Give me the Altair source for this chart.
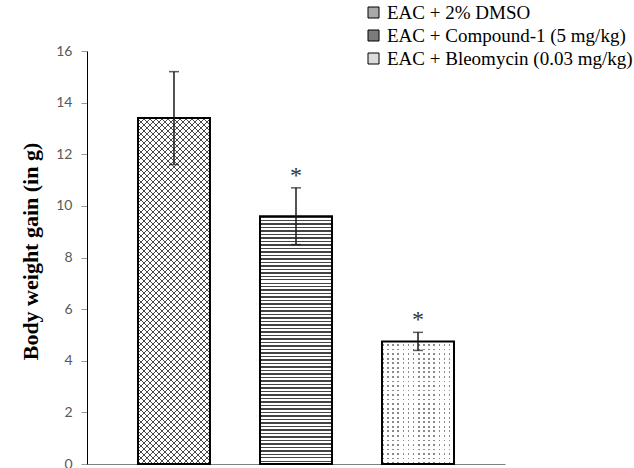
import math
import altair as alt
import pandas as pd

# ---- data ----
groups = ["EAC + 2% DMSO", "EAC + Compound-1 (5 mg/kg)", "EAC + Bleomycin (0.03 mg/kg)"]
means = [13.4, 9.6, 4.75]
errors = [1.8, 1.1, 0.35]
signif = ["", "*", "*"]
y_ticks = [0, 2, 4, 6, 8, 10, 12, 14, 16]
legend_fills = ["#a8a8a8", "#7c7c7c", "#dcdcdc"]

# ---- layout ----
W, H = 418, 413
Y_MAX = 16
P_INNER, P_OUTER = 0.41, 0.418
step = W / (len(groups) - P_INNER + 2 * P_OUTER)
BAR_W = step * (1 - P_INNER)
CLEAR = "rgba(255,255,255,0)"

df = pd.DataFrame({"group": groups, "mean": means, "err": errors, "sig": signif})
df["lo"] = df["mean"] - df["err"]
df["hi"] = df["mean"] + df["err"]

x_scale = alt.Scale(domain=groups, paddingInner=P_INNER, paddingOuter=P_OUTER)
y_scale = alt.Scale(domain=[0, Y_MAX], nice=False)

x_axis = alt.Axis(labels=False, ticks=False, title=None, grid=False,
                  domainColor="#7f7f7f", domainWidth=1)
y_axis = alt.Axis(values=y_ticks, format="d", grid=False,
                  title="Body weight gain (in g)",
                  titleFont="Liberation Serif", titleFontSize=22,
                  titleFontWeight="bold", titleColor="black",
                  titleX=-57, titleY=200, titleBaseline="middle",
                  labelFont="Lato", labelFontSize=14, labelColor="#595959",
                  labelPadding=9, tickSize=6, tickColor="#9a9a9a",
                  domainColor="black", domainWidth=1)

x_enc = alt.X("group:N", sort=groups, scale=x_scale, axis=x_axis)


def y_enc(field):
    return alt.Y(f"{field}:Q", scale=y_scale, axis=y_axis)


def stripes(n, frac, line_color, gap_color):
    stops = []
    for k in range(n):
        a, b, c = k / n, (k + frac) / n, (k + 1) / n
        stops += [
            {"offset": round(a, 6), "color": line_color},
            {"offset": round(b, 6), "color": line_color},
            {"offset": round(b, 6), "color": gap_color},
            {"offset": round(c, 6), "color": gap_color},
        ]
    return stops


def diag_grad(w, h, hspace, frac, color, flip=False):
    # 45-degree stripes, horizontal spacing `hspace` px, in bounding-box units
    period = hspace / math.sqrt(2)
    extent = (w + h) / math.sqrt(2)
    n = math.ceil(extent / period)
    t_corner = extent / (n * period)
    r = w / h
    k = (r + 1) / ((r * r + 1) * t_corner)
    if flip:
        x1, y1, x2, y2 = 1, 0, 1 - k * r, k
    else:
        x1, y1, x2, y2 = 0, 0, k * r, k
    return {"gradient": "linear", "x1": x1, "y1": y1, "x2": x2, "y2": y2,
            "stops": stripes(n, frac, color, CLEAR)}


def lin_grad(length, period, frac, color, gap, vertical=True):
    n = max(1, round(length / period))
    if vertical:
        x1, y1, x2, y2 = 0, 0, 0, 1
    else:
        x1, y1, x2, y2 = 0, 0, 1, 0
    return {"gradient": "linear", "x1": x1, "y1": y1, "x2": x2, "y2": y2,
            "stops": stripes(n, frac, color, gap)}


def bar_layer(i, fill):
    return (
        alt.Chart(df)
        .transform_filter(alt.datum.group == groups[i])
        .mark_bar(fill=fill)
        .encode(x=x_enc, y=y_enc("mean"))
    )


base = alt.Chart(df).mark_bar().encode(
    x=x_enc,
    y=y_enc("mean"),
    color=alt.Color("group:N", scale=alt.Scale(domain=groups, range=legend_fills),
                    legend=alt.Legend(title=None, orient="none", legendX=277, legendY=-48,
                                      symbolType="square", symbolSize=121,
                                      symbolStrokeColor="black", symbolStrokeWidth=1,
                                      symbolOpacity=1,
                                      labelFont="Liberation Serif", labelFontSize=19,
                                      labelColor="black", labelOffset=4,
                                      rowPadding=3, labelLimit=400)),
)

layers = [base, bar_layer(0, "white"), bar_layer(1, "white"), bar_layer(2, "white")]

# bar 1: cross-hatch
h0 = means[0] / Y_MAX * H
layers.append(bar_layer(0, diag_grad(BAR_W, h0, 6.0, 0.26, "#4a4a4a")))
layers.append(bar_layer(0, diag_grad(BAR_W, h0, 6.0, 0.26, "#4a4a4a", flip=True)))

# bar 2: wavy horizontal lines
h1 = means[1] / Y_MAX * H
layers.append(bar_layer(1, lin_grad(h1, 3.5, 0.42, "#444444", CLEAR, vertical=True)))

# bar 3: dotted
h2 = means[2] / Y_MAX * H
layers.append(bar_layer(2, lin_grad(BAR_W, 5.0, 0.3, "#8a8a8a", CLEAR, vertical=False)))
layers.append(bar_layer(2, lin_grad(h2, 4.5, 0.62, "white", CLEAR, vertical=True)))

outline = alt.Chart(df).mark_bar(fill="transparent", stroke="black", strokeWidth=2).encode(
    x=x_enc, y=y_enc("mean"))
layers.append(outline)

err_rule = alt.Chart(df).mark_rule(color="#1a1a1a", strokeWidth=1.5).encode(
    x=x_enc, y=y_enc("lo"), y2="hi:Q")
cap_hi = alt.Chart(df).mark_tick(color="#1a1a1a", thickness=1.5, size=10).encode(
    x=x_enc, y=y_enc("hi"))
cap_lo = alt.Chart(df).mark_tick(color="#1a1a1a", thickness=1.5, size=10).encode(
    x=x_enc, y=y_enc("lo"))
stars = alt.Chart(df).mark_text(font="Liberation Serif", fontSize=24, color="#333333",
                                baseline="middle", dy=-12).encode(
    x=x_enc, y=y_enc("hi"), text="sig:N")
layers += [err_rule, cap_hi, cap_lo, stars]

chart = (
    alt.layer(*layers)
    .properties(width=W, height=H, autosize=alt.AutoSizeParams(type="none"),
                padding={"left": 87, "top": 51, "right": 129, "bottom": 4},
                background="white")
    .configure_view(stroke=None)
)

chart.save("out.html", embed_options={"renderer": "svg", "actions": False})
